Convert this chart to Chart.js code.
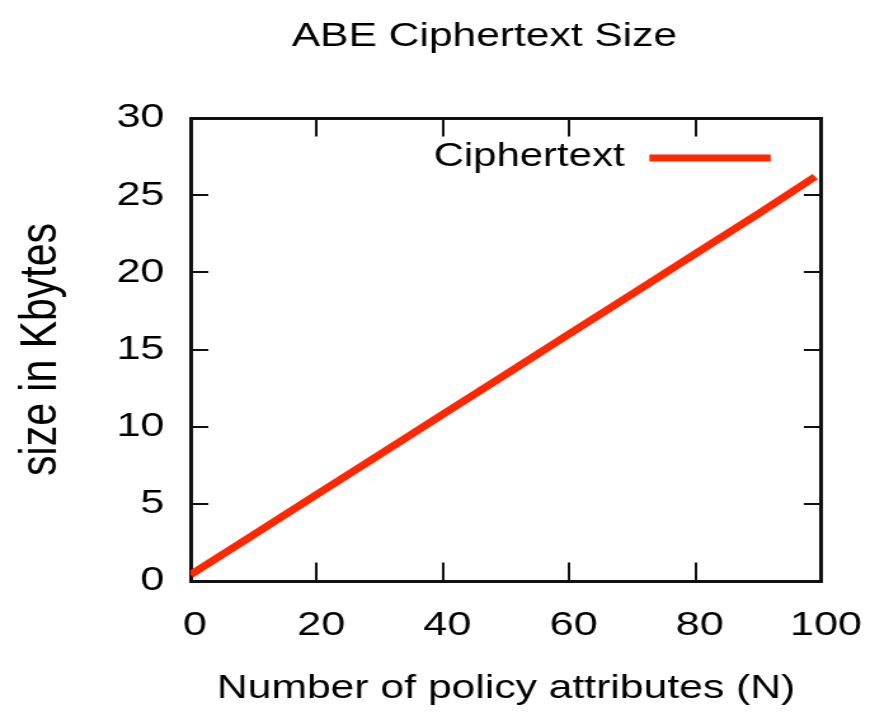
<!DOCTYPE html>
<html>
<head>
<meta charset="utf-8">
<title>ABE Ciphertext Size</title>
<script src="https://cdn.jsdelivr.net/npm/chart.js@4.4.1/dist/chart.umd.min.js"></script>
<style>
  html, body { margin: 0; padding: 0; background: #fff; overflow: hidden; }
  /* the plot is drawn on a narrower canvas and widened, giving the wide gnuplot-style lettering */
  #wrap { width: 685px; height: 714px; transform: scaleX(1.27); transform-origin: 0 0; }
  canvas { display: block; }
</style>
</head>
<body>
<div id="wrap"><canvas id="chart" width="685" height="714"></canvas></div>
<script>
// Chart text
const chartTitle = 'ABE Ciphertext Size';
const seriesLabel = 'Ciphertext';
const xAxisTitle = 'Number of policy attributes (N)';
const yAxisTitle = 'size in Kbytes';

// Ciphertext size (KB) against number of policy attributes
const attributes = [0, 10, 20, 30, 40, 50, 60, 70, 80, 90, 99];
const sizesKB = [0.4, 3.0, 5.6, 8.2, 10.8, 13.4, 16.0, 18.6, 21.2, 23.8, 26.2];

// Axis ticks
const xTicks = [0, 20, 40, 60, 80, 100];
const yTicks = [0, 5, 10, 15, 20, 25, 30];

const FONT = "'Liberation Sans', Arial, Helvetica, sans-serif";
const INK = '#111';
const RED = '#fe2800';

const points = attributes.map((n, i) => ({ x: n, y: sizesKB[i] }));

// Title centred over the plot, slightly left of the frame centre
const titlePlugin = {
  id: 'plotTitle',
  afterDraw(chart) {
    const { ctx, chartArea } = chart;
    ctx.save();
    ctx.font = '33.5px ' + FONT;
    ctx.fillStyle = '#000';
    ctx.textAlign = 'center';
    ctx.textBaseline = 'alphabetic';
    ctx.fillText(chartTitle, (chartArea.left + chartArea.right) / 2 - 17, 45.5);
    ctx.restore();
  }
};

// Key in the upper right of the frame: label text, then a line sample
const keyPlugin = {
  id: 'plotKey',
  afterDatasetsDraw(chart) {
    const { ctx, chartArea } = chart;
    const ds = chart.data.datasets[0];
    const lineEnd = chartArea.right - 40;
    const lineStart = lineEnd - 95.6;
    const y = chartArea.top + 40;
    ctx.save();
    ctx.strokeStyle = ds.borderColor;
    ctx.lineWidth = ds.borderWidth;
    ctx.lineCap = 'butt';
    ctx.beginPath();
    ctx.moveTo(lineStart, y);
    ctx.lineTo(lineEnd, y);
    ctx.stroke();
    ctx.font = '33px ' + FONT;
    ctx.fillStyle = '#000';
    ctx.textAlign = 'right';
    ctx.textBaseline = 'alphabetic';
    ctx.fillText(ds.label, lineStart - 19.5, y + 8);
    ctx.restore();
  }
};

const setTicks = (values) => (scale) => { scale.ticks = values.map(v => ({ value: v })); };

// fixed box size; label overhang must not shrink the frame
const fixSize = (w, h) => (scale) => {
  if (w !== null) scale.width = w;
  if (h !== null) scale.height = h;
  scale.paddingLeft = 0; scale.paddingRight = 0;
  scale.paddingTop = 0; scale.paddingBottom = 0;
};

const frameGrid = (len) => ({
  display: true,
  drawOnChartArea: false,
  drawTicks: true,
  tickLength: -len,      // negative length turns the tick marks inward
  color: INK,
  lineWidth: 2,
  tickWidth: 2
});
const frameBorder = { display: true, color: INK, width: 3 };

new Chart(document.getElementById('chart'), {
  type: 'line',
  data: {
    datasets: [{
      label: seriesLabel,
      data: points,
      borderColor: RED,
      backgroundColor: RED,
      borderWidth: 7,
      borderCapStyle: 'butt',
      pointRadius: 0,
      pointHoverRadius: 0,
      tension: 0,
      fill: false,
      xAxisID: 'x',
      yAxisID: 'y'
    }]
  },
  options: {
    responsive: false,
    animation: false,
    devicePixelRatio: 1,
    events: [],
    layout: { padding: { left: 0, right: 38.1, top: 118, bottom: 0 } },
    plugins: {
      legend: { display: false },
      title: { display: false },
      tooltip: { enabled: false }
    },
    scales: {
      x: {
        type: 'linear',
        position: 'bottom',
        min: 0, max: 100,
        afterBuildTicks: setTicks(xTicks),
        afterFit: fixSize(null, 133),
        grid: frameGrid(18.5),
        border: frameBorder,
        ticks: {
          color: '#000',
          font: { family: FONT, size: 34 },
          padding: 42.3,
          labelOffset: 3.5,
          maxRotation: 0,
          autoSkip: false
        },
        title: {
          display: true,
          text: xAxisTitle,
          color: '#000',
          font: { family: FONT, size: 33.6 },
          padding: { top: 0, bottom: 5.6 }
        }
      },
      x2: {
        type: 'linear',
        position: 'top',
        min: 0, max: 100,
        afterBuildTicks: setTicks(xTicks),
        afterFit: fixSize(null, 0),
        grid: frameGrid(18.5),
        border: frameBorder,
        ticks: { display: false }
      },
      y: {
        type: 'linear',
        position: 'left',
        min: 0, max: 30,
        afterBuildTicks: setTicks(yTicks),
        afterFit: fixSize(150, null),
        grid: frameGrid(14),
        border: frameBorder,
        ticks: {
          color: '#000',
          font: { family: FONT, size: 34 },
          padding: 34.5,
          autoSkip: false
        },
        title: {
          display: true,
          text: yAxisTitle,
          color: '#000',
          font: { family: FONT, size: 41 },
          padding: { top: 8.5, bottom: 0 }
        }
      },
      y2: {
        type: 'linear',
        position: 'right',
        min: 0, max: 30,
        afterBuildTicks: setTicks(yTicks),
        afterFit: fixSize(0, null),
        grid: frameGrid(14),
        border: frameBorder,
        ticks: { display: false }
      }
    }
  },
  plugins: [titlePlugin, keyPlugin]
});
</script>
</body>
</html>
